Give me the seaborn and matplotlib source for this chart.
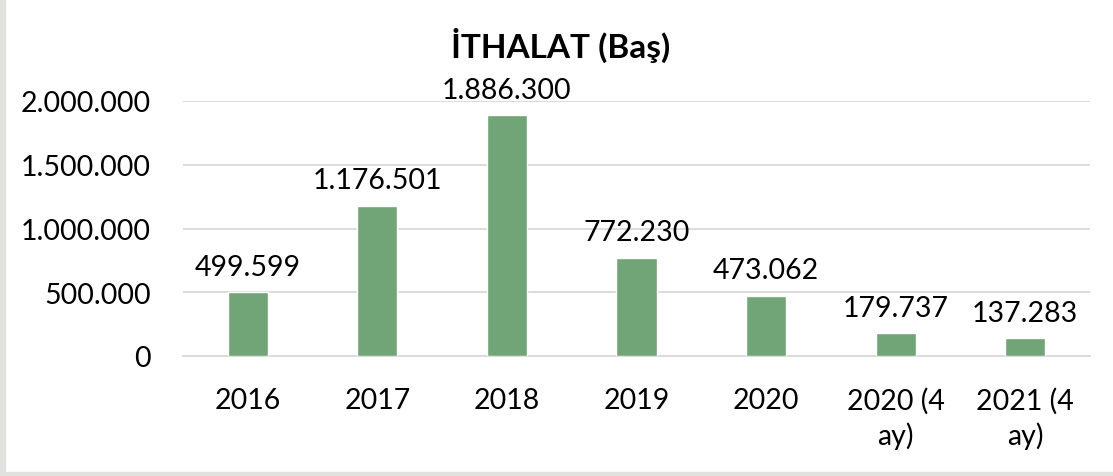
import matplotlib
matplotlib.use("Agg")
import matplotlib.pyplot as plt
import matplotlib.ticker as mticker
import seaborn as sns
import pandas as pd

categories = ["2016", "2017", "2018", "2019", "2020", "2020 (4\nay)", "2021 (4\nay)"]
values = [499599, 1176501, 1886300, 772230, 473062, 179737, 137283]
title = "İTHALAT (Baş)"

sns.set_theme(style="white")
plt.rcParams["font.family"] = ["Lato", "DejaVu Sans"]


def dotted(v, pos=None):
    return f"{int(round(v)):,}".replace(",", ".")


df = pd.DataFrame({"category": categories, "value": values})

fig = plt.figure(figsize=(11.13, 4.77), dpi=100)
fig.patch.set_facecolor("white")

# light gray frame strips on the left and bottom edges
fig.add_artist(plt.Rectangle((0, 0), 5 / 1113, 1, transform=fig.transFigure,
                             color="#e1e1dd", zorder=0))
fig.add_artist(plt.Rectangle((0, 0), 1, 4 / 477, transform=fig.transFigure,
                             color="#e1e1dd", zorder=0))

ax = fig.add_axes([183 / 1113, (477 - 357) / 477, (1090 - 183) / 1113, (357 - 102) / 477])

sns.barplot(data=df, x="category", y="value", color="#71a476", width=0.31,
            saturation=1, ax=ax, zorder=3)

ax.set_ylim(0, 2000000)
ax.set_xlim(-0.5, len(categories) - 0.5)
ax.yaxis.set_major_locator(mticker.MultipleLocator(500000))
ax.yaxis.set_major_formatter(mticker.FuncFormatter(dotted))
ax.grid(axis="y", color="#d9d9d9", linewidth=1.3, zorder=0)
ax.grid(axis="x", visible=False)
for side in ["top", "right", "left"]:
    ax.spines[side].set_visible(False)
ax.spines["bottom"].set_color("#d9d9d9")
ax.spines["bottom"].set_linewidth(1.3)

ax.set_xlabel("")
ax.set_ylabel("")
ax.tick_params(axis="y", length=0, pad=23, labelsize=20.5, labelcolor="#000000")
ax.tick_params(axis="x", length=0, pad=22, labelsize=20.5, labelcolor="#000000")
for lbl in ax.get_xticklabels():
    lbl.set_linespacing(1.35)
    lbl.set_horizontalalignment("center")

for i, v in enumerate(values):
    ax.annotate(dotted(v), (i, v), xytext=(0, 9), textcoords="offset points",
                ha="center", va="bottom", fontsize=20.5, color="#000000",
                annotation_clip=False)

fig.text(561 / 1113, (477 - 45) / 477, title, ha="center", va="center",
         fontsize=24, fontweight="bold", color="#000000")

fig.savefig("out.png", dpi=100, facecolor="white")
